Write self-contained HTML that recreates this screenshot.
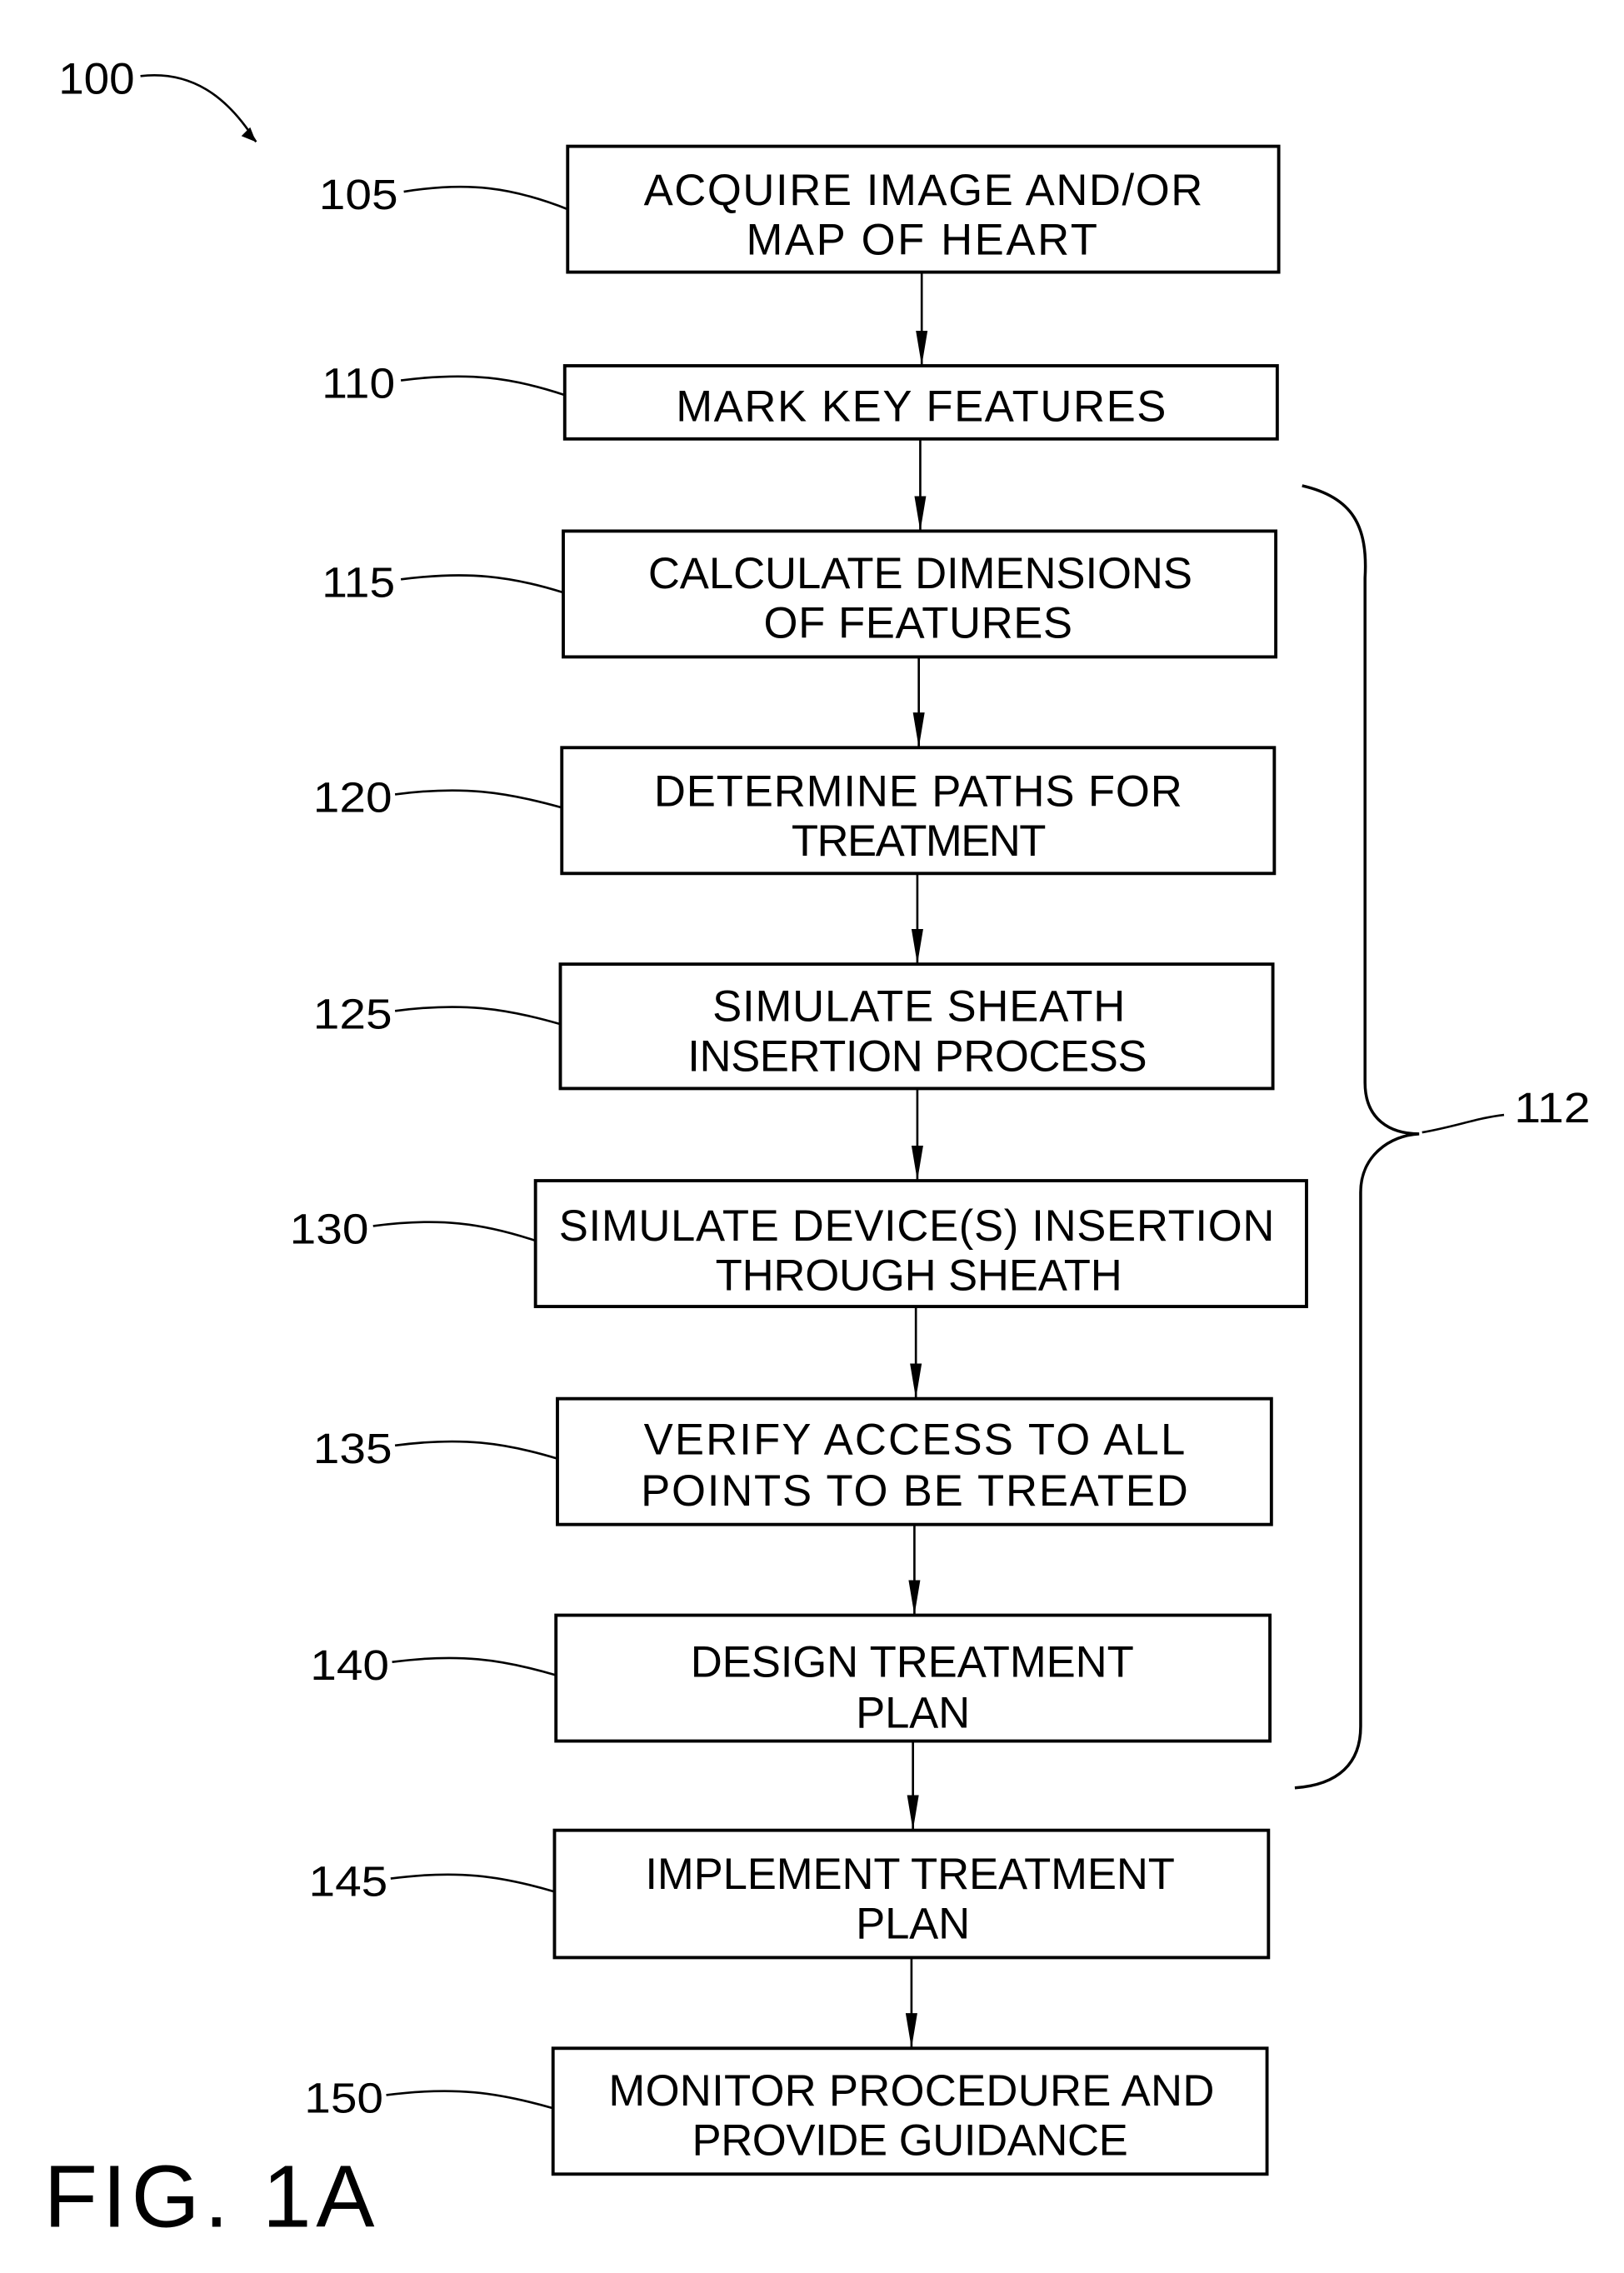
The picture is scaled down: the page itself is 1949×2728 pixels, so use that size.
<!DOCTYPE html>
<html><head><meta charset="utf-8"><style>html,body{margin:0;padding:0;background:#fff}svg{display:block}</style></head>
<body>
<svg width="1949" height="2728" viewBox="0 0 1110 1553.6" preserveAspectRatio="none" xmlns="http://www.w3.org/2000/svg">
<defs><marker id="a" markerWidth="26" markerHeight="10" refX="24" refY="5" orient="auto" markerUnits="userSpaceOnUse" viewBox="0 0 26 10"><path d="M0,1 L24,5 L0,9 Z" fill="#000"/></marker></defs>
<g font-family="Liberation Sans, sans-serif" font-size="30" fill="#000">
<text x="40" y="64" textLength="52" lengthAdjust="spacingAndGlyphs">100</text>
<path d="M96,52 C130,48 155,65 175,97" fill="none" stroke="#000" stroke-width="1.5"/>
<path d="M175,97 l-10,-4 l6,-6 z" fill="#000"/>
<g fill="none" stroke="#000" stroke-width="2.2">
<rect x="388" y="100" width="486" height="86"/>
<rect x="386" y="250" width="487" height="50"/>
<rect x="385" y="363" width="487" height="86"/>
<rect x="384" y="511" width="487" height="86"/>
<rect x="383" y="659" width="487" height="85"/>
<rect x="366" y="807" width="527" height="86"/>
<rect x="381" y="956" width="488" height="86"/>
<rect x="380" y="1104" width="488" height="86"/>
<rect x="379" y="1251" width="488" height="87"/>
<rect x="378" y="1400" width="488" height="86"/>
</g>
<g stroke="#000" stroke-width="1.5" marker-end="url(#a)">
<line x1="630" y1="186" x2="630" y2="250"/>
<line x1="629" y1="300" x2="629" y2="363"/>
<line x1="628" y1="449" x2="628" y2="511"/>
<line x1="627" y1="597" x2="627" y2="659"/>
<line x1="627" y1="744" x2="627" y2="807"/>
<line x1="626" y1="893" x2="626" y2="956"/>
<line x1="625" y1="1042" x2="625" y2="1104"/>
<line x1="624" y1="1190" x2="624" y2="1251"/>
<line x1="623" y1="1338" x2="623" y2="1400"/>
</g>
<g fill="none" stroke="#000" stroke-width="1.5">
<path d="M276,131 C320,124 350,128 388,143"/>
<path d="M274,260 C320,254 350,258 386,270"/>
<path d="M274,396 C320,390 350,394 385,405"/>
<path d="M270,543 C315,537 345,541 384,552"/>
<path d="M270,691 C315,685 345,689 383,700"/>
<path d="M255,838 C300,832 330,836 366,848"/>
<path d="M270,988 C315,982 345,986 381,997"/>
<path d="M268,1136 C313,1130 343,1134 380,1145"/>
<path d="M267,1284 C312,1278 342,1282 379,1293"/>
<path d="M264,1432 C310,1426 340,1430 378,1441"/>
<path d="M890,332 C925,340 935,360 933,395 L933,740 C933,765 950,775 970,775 C950,776 930,790 930,815 L930,1180 C930,1205 915,1220 885,1222" stroke-width="2"/>
<path d="M972,774 C995,770 1010,764 1028,762"/>
</g>
<g font-size="29">
<text x="218" y="143" textLength="54" lengthAdjust="spacingAndGlyphs">105</text>
<text x="220" y="272" textLength="50" lengthAdjust="spacingAndGlyphs">110</text>
<text x="220" y="408" textLength="50" lengthAdjust="spacingAndGlyphs">115</text>
<text x="214" y="555" textLength="54" lengthAdjust="spacingAndGlyphs">120</text>
<text x="214" y="703" textLength="54" lengthAdjust="spacingAndGlyphs">125</text>
<text x="198" y="850" textLength="54" lengthAdjust="spacingAndGlyphs">130</text>
<text x="214" y="1000" textLength="54" lengthAdjust="spacingAndGlyphs">135</text>
<text x="212" y="1148" textLength="54" lengthAdjust="spacingAndGlyphs">140</text>
<text x="211" y="1296" textLength="54" lengthAdjust="spacingAndGlyphs">145</text>
<text x="208" y="1444" textLength="54" lengthAdjust="spacingAndGlyphs">150</text>
<text x="1035" y="767" textLength="52" lengthAdjust="spacingAndGlyphs">112</text>
</g>
<g font-size="30" lengthAdjust="spacing">
<text x="440" y="140" textLength="382">ACQUIRE IMAGE AND/OR</text>
<text x="510" y="174" textLength="240">MAP OF HEART</text>
<text x="462" y="288" textLength="335">MARK KEY FEATURES</text>
<text x="443" y="402" textLength="372">CALCULATE DIMENSIONS</text>
<text x="522" y="436" textLength="211">OF FEATURES</text>
<text x="447" y="551" textLength="361">DETERMINE PATHS FOR</text>
<text x="541" y="585" textLength="174">TREATMENT</text>
<text x="487" y="698" textLength="282">SIMULATE SHEATH</text>
<text x="470" y="732" textLength="314">INSERTION PROCESS</text>
<text x="382" y="848" textLength="489">SIMULATE DEVICE(S) INSERTION</text>
<text x="489" y="882" textLength="278">THROUGH SHEATH</text>
<text x="440" y="994" textLength="370">VERIFY ACCESS TO ALL</text>
<text x="438" y="1029" textLength="374">POINTS TO BE TREATED</text>
<text x="472" y="1146" textLength="303">DESIGN TREATMENT</text>
<text x="585" y="1181" textLength="78">PLAN</text>
<text x="441" y="1291" textLength="362">IMPLEMENT TREATMENT</text>
<text x="585" y="1325" textLength="78">PLAN</text>
<text x="416" y="1439" textLength="414">MONITOR PROCEDURE AND</text>
<text x="473" y="1473" textLength="298">PROVIDE GUIDANCE</text>
</g>
<text x="30" y="1522" font-size="60" textLength="226" lengthAdjust="spacing">FIG. 1A</text>
</g>
</svg>
</body></html>
